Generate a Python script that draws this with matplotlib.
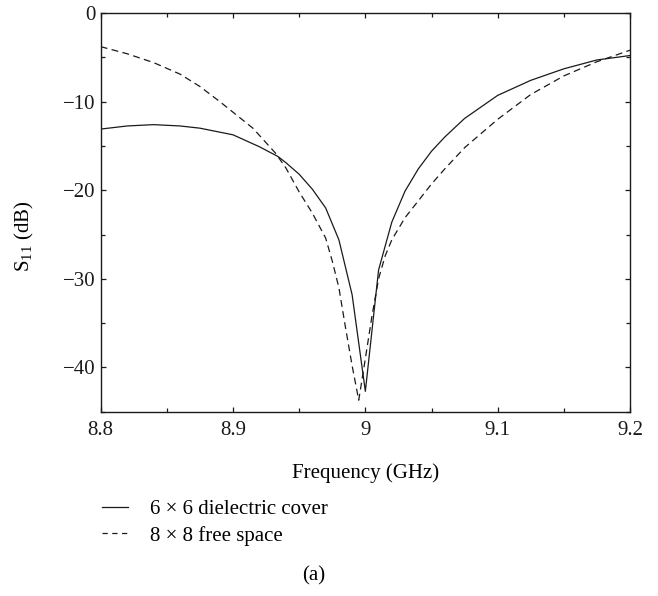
import matplotlib
matplotlib.use("Agg")
import matplotlib.pyplot as plt
from matplotlib.ticker import MultipleLocator, FuncFormatter
from matplotlib.lines import Line2D

plt.rcParams['font.family'] = ['Liberation Serif', 'DejaVu Serif']
plt.rcParams['mathtext.fontset'] = 'custom'
plt.rcParams['mathtext.rm'] = 'Liberation Serif'
plt.rcParams['mathtext.it'] = 'Liberation Serif:italic'

# Solid: 6 x 6 dielectric cover
freq_cover = [8.80, 8.82, 8.84, 8.86, 8.875, 8.90, 8.92, 8.934, 8.94, 8.95, 8.96,
              8.97, 8.98, 8.99, 9.00, 9.01, 9.02, 9.03, 9.04, 9.05, 9.06, 9.075,
              9.10, 9.125, 9.15, 9.175, 9.20]
s11_cover = [-13.1, -12.75, -12.6, -12.75, -13.0, -13.75, -15.1, -16.2, -16.9, -18.2, -19.9,
             -22.0, -25.6, -31.8, -42.7, -29.0, -23.6, -20.1, -17.6, -15.6, -14.0, -11.9,
             -9.3, -7.6, -6.3, -5.3, -4.8]

# Dashed: 8 x 8 free space
freq_free = [8.80, 8.82, 8.84, 8.86, 8.875, 8.89, 8.90, 8.915, 8.932, 8.94, 8.95, 8.96,
             8.97, 8.975, 8.98, 8.985, 8.99, 8.995, 9.00, 9.005, 9.01, 9.015, 9.02,
             9.03, 9.04, 9.05, 9.06, 9.075, 9.10, 9.125, 9.15, 9.175, 9.20]
s11_free = [-3.8, -4.6, -5.6, -6.9, -8.3, -10.0, -11.2, -13.0, -15.8, -17.5, -20.2, -22.6,
            -25.4, -28.0, -31.0, -35.5, -39.8, -43.7, -39.0, -34.2, -30.0, -27.4, -25.6,
            -23.1, -21.2, -19.3, -17.6, -15.2, -12.0, -9.2, -7.1, -5.5, -4.2]

series_labels = ["6 \u00d7 6 dielectric cover", "8 \u00d7 8 free space"]
x_ticks = [8.8, 8.9, 9.0, 9.1, 9.2]
y_ticks = [0, -10, -20, -30, -40]

W, H = 658, 596
fig = plt.figure(figsize=(W / 100, H / 100), dpi=100)
L, R, T, B = 100.7, 630.0, 13.0, 411.7
ax = fig.add_axes([L / W, 1 - B / H, (R - L) / W, (B - T) / H])

ink = '#1a1a1a'
ax.plot(freq_cover, s11_cover, color=ink, lw=0.9, ls='-')
ax.plot(freq_free, s11_free, color=ink, lw=0.9, ls=(0, (5.5, 3.5)))

ax.set_xlim(8.8, 9.2)
ax.set_ylim(-45, 0)
ax.set_xticks(x_ticks)
ax.set_yticks(y_ticks)
ax.xaxis.set_minor_locator(MultipleLocator(0.05))
ax.yaxis.set_minor_locator(MultipleLocator(5))

def xfmt(v, p):
    return "9" if abs(v - 9.0) < 1e-9 else f"{v:.1f}"
ax.xaxis.set_major_formatter(FuncFormatter(xfmt))
ax.yaxis.set_major_formatter(FuncFormatter(lambda v, p: f"{int(round(v))}".replace("-", "\u2212")))

ax.tick_params(which='both', direction='in', top=True, right=True, width=0.9, colors=ink)
ax.tick_params(which='major', length=3.5, labelsize=15)
ax.tick_params(which='minor', length=3)
ax.tick_params(axis='x', pad=7)
ax.tick_params(axis='y', pad=4)
for sp in ax.spines.values():
    sp.set_linewidth(1.0)
    sp.set_color(ink)

ax.set_xlabel("Frequency (GHz)", fontsize=15)
ax.xaxis.label.set_va('center')
ax.xaxis.set_label_coords(0.5, (B - 473) / (B - T))
ax.set_ylabel(r"S$_\mathrm{11}$ (dB)", fontsize=15)
ax.yaxis.label.set_va('center')
ax.yaxis.set_label_coords((24 - L) / (R - L), (B - 236.5) / (B - T))

handles = [Line2D([], [], color=ink, lw=0.9, ls='-'),
           Line2D([], [], color=ink, lw=0.9, ls=(0, (4.2, 3.6)))]
fig.legend(handles, series_labels, loc='upper left', bbox_to_anchor=(101.7 / W, 1 - 499.5 / H),
           frameon=False, fontsize=15, handlelength=1.25, handletextpad=1.05,
           labelspacing=0.32, borderpad=0, borderaxespad=0)

fig.text(314 / W, 1 - 576 / H, "(a)", ha='center', va='center', fontsize=15)

fig.savefig("out.png", dpi=100)
